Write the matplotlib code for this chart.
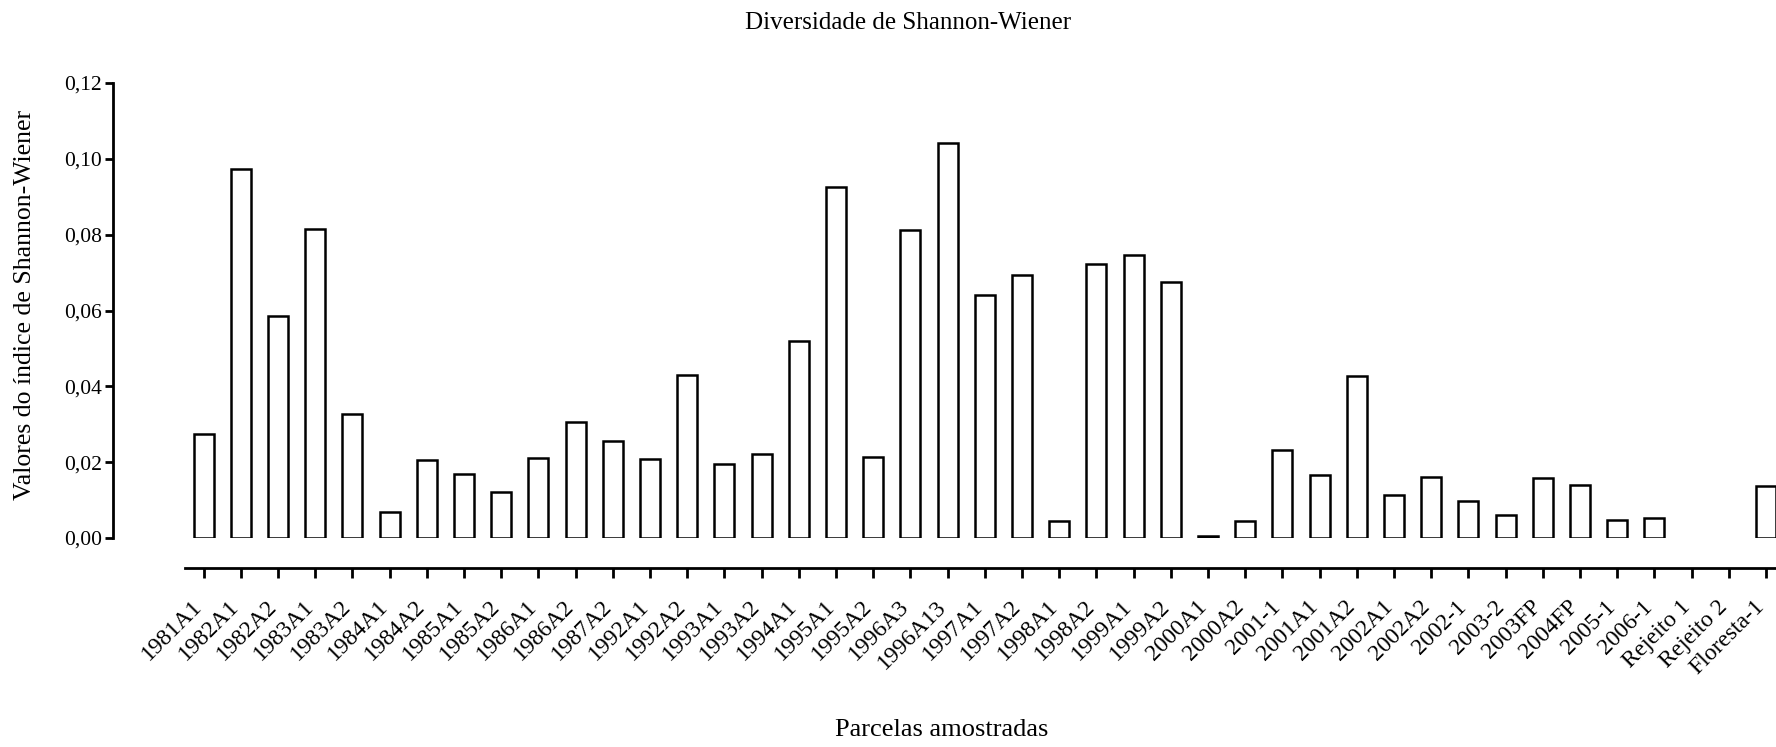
import matplotlib
matplotlib.use("Agg")
import matplotlib.pyplot as plt
from matplotlib.ticker import FuncFormatter
from matplotlib.transforms import ScaledTranslation

# ----------------------------------------------------------------------
# Data
# ----------------------------------------------------------------------

parcelas = [
    "1981A1", "1982A1", "1982A2", "1983A1", "1983A2", "1984A1", "1984A2",
    "1985A1", "1985A2", "1986A1", "1986A2", "1987A2", "1992A1", "1992A2",
    "1993A1", "1993A2", "1994A1", "1995A1", "1995A2", "1996A3", "1996A13",
    "1997A1", "1997A2", "1998A1", "1998A2", "1999A1", "1999A2", "2000A1",
    "2000A2", "2001-1", "2001A1", "2001A2", "2002A1", "2002A2", "2002-1",
    "2003-2", "2003FP", "2004FP", "2005-1", "2006-1", "Rejeito 1",
    "Rejeito 2", "Floresta-1",
]

shannon = [
    0.0275, 0.0973, 0.0585, 0.0815, 0.0326, 0.0068, 0.0205,
    0.0169, 0.0121, 0.0212, 0.0306, 0.0257, 0.0209, 0.0431,
    0.0194, 0.0222, 0.0520, 0.0927, 0.0213, 0.0811, 0.1041,
    0.0641, 0.0694, 0.0044, 0.0722, 0.0747, 0.0674, 0.0005,
    0.0044, 0.0231, 0.0166, 0.0427, 0.0113, 0.0161, 0.0097,
    0.0060, 0.0157, 0.0141, 0.0048, 0.0053, 0.0,
    0.0, 0.0137,
]

y_ticks = [0.00, 0.02, 0.04, 0.06, 0.08, 0.10, 0.12]

# ----------------------------------------------------------------------
# Plot
# ----------------------------------------------------------------------

plt.rcParams["font.family"] = ["Liberation Serif", "DejaVu Serif"]

fig = plt.figure(figsize=(17.76, 7.47), dpi=100)
ax = fig.add_axes([185 / 1776, 1 - 538 / 747, 1 - 185 / 1776, (538 - 83) / 747])

x = list(range(len(parcelas)))
bars = ax.bar(x, shannon, width=0.54, color="white", edgecolor="black", linewidth=1.8)
# empty plots (value 0) show no outline in the original
for b, v in zip(bars, shannon):
    if v == 0:
        b.set_visible(False)

ax.set_xlim(-0.5, 42.27)
ax.set_ylim(0, 0.12)

# detached axes like the original software
ax.spines["top"].set_visible(False)
ax.spines["right"].set_visible(False)
ax.spines["left"].set_position(("outward", 51.8))
ax.spines["bottom"].set_position(("outward", 21.6))
ax.spines["left"].set_bounds(0, 0.12)
for side in ("left", "bottom"):
    ax.spines[side].set_linewidth(2.0)

ax.set_yticks(y_ticks)
ax.yaxis.set_major_formatter(FuncFormatter(lambda v, p: f"{v:.2f}".replace(".", ",")))
ax.tick_params(axis="y", length=6, width=2.0, pad=2, labelsize=15.5)

ax.set_xticks(x)
ax.set_xticklabels(parcelas, rotation=45, ha="right", va="top",
                   rotation_mode="anchor", fontsize=17)
ax.tick_params(axis="x", length=7, width=2.0, pad=9)
# labels sit a bit left of / below their tick in the original
shift = ScaledTranslation(-0.12, -0.06, fig.dpi_scale_trans)
for lab in ax.get_xticklabels():
    lab.set_transform(lab.get_transform() + shift)

fig.text(908 / 1776, 1 - 23 / 747, "Diversidade de Shannon-Wiener",
         ha="center", va="center", fontsize=18)
fig.text(942 / 1776, 1 - 730 / 747, "Parcelas amostradas",
         ha="center", va="center", fontsize=19)
fig.text(25 / 1776, 1 - 305 / 747, "Valores do índice de Shannon-Wiener",
         ha="center", va="center", rotation=90, fontsize=18.5)

fig.savefig("out.png", dpi=100, facecolor="white")
